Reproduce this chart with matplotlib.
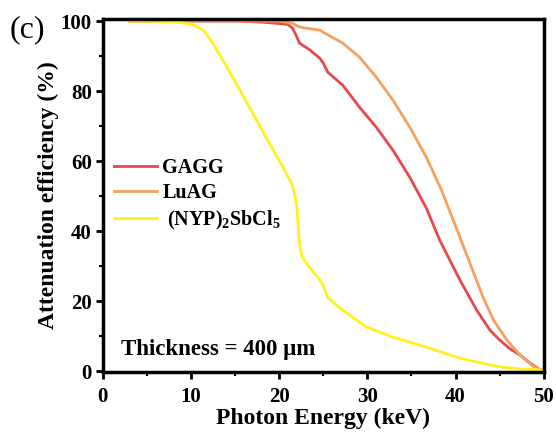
import matplotlib
matplotlib.use("Agg")
import matplotlib.pyplot as plt
from matplotlib.ticker import MultipleLocator

plt.rcParams['font.family'] = ['Liberation Serif', 'DejaVu Serif']
plt.rcParams['mathtext.fontset'] = 'custom'
plt.rcParams['mathtext.rm'] = 'Liberation Serif:bold'
plt.rcParams['mathtext.it'] = 'Liberation Serif:bold'
plt.rcParams['mathtext.bf'] = 'Liberation Serif:bold'

# Data
gagg_E = [3, 10, 15, 18, 20, 21, 21.5, 21.9, 22.3, 23.5, 24.6, 25.0, 25.5, 27.2, 29.1, 31,
          32.9, 34.8, 36.7, 38.2, 40.5, 42.4, 43.9, 45.0, 46.1, 47.3, 48.4, 49.5, 50]
gagg_A = [100, 100, 100, 99.7, 99.3, 99, 98, 96, 93.7, 91.7, 89.4, 88, 85.4, 81.7, 75.4, 69.7,
          63.1, 55.4, 46.5, 37.4, 26, 17.4, 11.7, 8.9, 6.5, 4.6, 2.4, 0.5, 0.3]

luag_E = [3, 10, 15, 20, 21.5, 22.3, 23, 24.6, 25.2, 27.2, 29.1, 31, 32.9, 34.8, 36.7,
          38.4, 40.1, 41.6, 43.1, 44.3, 45.8, 47.3, 48.8, 49.5, 50]
luag_A = [100, 100, 100, 100, 99.4, 98.3, 98, 97.4, 96.5, 93.7, 89.7, 84, 77.4, 69.7, 61,
          51.7, 40.8, 31, 21.2, 14.6, 8.9, 4.6, 1.4, 0.4, 0.3]

nyp_E = [3, 5, 8, 8.7, 10.2, 11.4, 12.5, 13.6, 14.8, 16.7, 18.6, 20.5, 21.4, 21.8, 22.0,
         22.3, 22.6, 23.5, 24.6, 25.0, 25.5, 27.2, 29.9, 32.9, 36.5, 40.5, 43.5, 45.4, 47.5, 50]
nyp_A = [100, 100, 99.8, 99.6, 99, 97.4, 93.6, 88.8, 83.6, 75, 66.4, 57.9, 53.7, 50, 46.9,
         36, 32.6, 29.5, 26, 24.5, 21, 17.4, 12.6, 9.7, 7, 3.7, 2, 1.1, 0.6, 0.3]

labels = ['GAGG', 'LuAG', ' (NYP)$_2$SbCl$_5$']
colors = ['#E8474C', '#F5A05C', '#FFF21A']

fig = plt.figure(figsize=(5.56, 4.41), dpi=100)
ax = fig.add_axes([0.185, 0.156, 0.793, 0.801])

ax.plot(gagg_E, gagg_A, color=colors[0], lw=2, label=labels[0])
ax.plot(luag_E, luag_A, color=colors[1], lw=2, label=labels[1])
ax.plot(nyp_E, nyp_A, color=colors[2], lw=2, label=labels[2])

ax.set_xlim(0, 50)
ax.set_ylim(-0.3, 100.6)
ax.xaxis.set_major_locator(MultipleLocator(10))
ax.xaxis.set_minor_locator(MultipleLocator(5))
ax.yaxis.set_major_locator(MultipleLocator(20))
ax.yaxis.set_minor_locator(MultipleLocator(10))
ax.tick_params(which='major', direction='out', length=5, width=2, labelsize=15)
ax.tick_params(axis='x', which='major', pad=6)
ax.tick_params(axis='y', which='major', pad=3)
ax.tick_params(which='minor', direction='out', length=3, width=1.5)
for lab in ax.get_xticklabels() + ax.get_yticklabels():
    lab.set_fontweight('bold')
for s in ax.spines.values():
    s.set_linewidth(2.5)

ax.set_xlabel('Photon Energy (keV)', fontsize=17, fontweight='bold', labelpad=0)
ax.set_ylabel('Attenuation efficiency (%)', fontsize=17, fontweight='bold', labelpad=1)

leg = ax.legend(loc='upper left', bbox_to_anchor=(-0.006, 0.645), frameon=False,
                prop={'weight': 'bold', 'size': 14.5}, handlelength=2.1,
                handletextpad=0.28, labelspacing=0.25, borderaxespad=0.3)

ax.text(2.1, 6.2, 'Thickness = 400 \u03bcm', fontsize=16.5, fontweight='bold', va='center')
fig.text(0.018, 0.932, '(c)', fontsize=23, va='center')

fig.savefig('out.png', dpi=100)
